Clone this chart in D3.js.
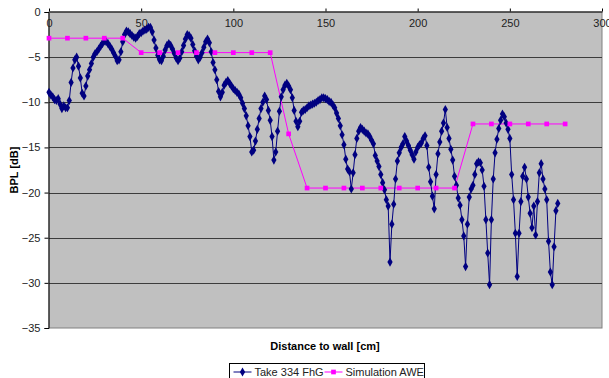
<!DOCTYPE html>
<html>
<head>
<meta charset="utf-8">
<script src="https://cdn.jsdelivr.net/npm/d3@7"></script>
<style>
  body { margin: 0; background: #fff; }
  svg { display: block; font-family: "Liberation Sans", Arial, sans-serif; }
</style>
</head>
<body>
<div id="chart"></div>
<script>
const width = 609;
const height = 378;

// Take 334 FhG, one reading per cm starting at 0 cm
const takeBpl = [
  -8.9, -9.2, -9.4, -9.7, -9.8, -9.6, -10.2, -10.7, -10.4, -10.6,
  -10.6, -9.8, -7.8, -6.2, -5.3, -5.0, -6.0, -7.3, -9.0, -9.3,
  -8.2, -7.1, -6.4, -5.7, -5.0, -4.6, -4.4, -4.1, -3.8, -3.5,
  -3.2, -3.3, -3.5, -3.8, -4.1, -4.5, -4.9, -5.4, -5.3, -4.4,
  -3.3, -2.5, -2.1, -2.2, -2.4, -2.6, -2.8, -2.9, -2.7, -2.4,
  -2.3, -2.1, -2.0, -1.9, -1.7, -1.7, -2.2, -3.1, -4.0, -4.8,
  -5.3, -5.4, -4.9, -4.2, -3.7, -3.5, -3.7, -4.1, -4.6, -5.1,
  -5.4, -5.1, -4.4, -3.7, -3.0, -2.5, -2.6, -2.9, -3.6, -4.3,
  -4.9, -5.3, -5.0, -4.5, -3.9, -3.3, -3.0, -3.4, -4.4, -5.6,
  -6.4, -7.5, -8.8, -9.4, -8.9, -8.1, -7.8, -7.6, -7.9, -8.2,
  -8.5, -8.7, -8.9, -9.1, -9.5, -10.1, -10.7, -11.5, -12.6, -13.8,
  -15.5, -15.3, -14.3, -13.0, -11.8, -10.7, -10.0, -9.3, -9.7, -10.9,
  -12.0, -13.8, -16.4, -15.5, -13.2, -11.0, -9.4, -8.6, -8.1, -7.9,
  -8.2, -8.6, -9.5, -10.9, -12.1, -12.7, -12.1, -11.1, -10.9, -10.8,
  -10.6, -10.4, -10.3, -10.2, -10.1, -10.0, -9.8, -9.7, -9.5, -9.5,
  -9.6, -9.7, -9.9, -10.0, -10.3, -10.6, -11.2, -11.8, -12.6, -13.6,
  -14.7, -16.3, -17.4, -17.7, -19.6, -17.8, -15.8, -14.0, -13.2, -12.8,
  -13.0, -13.2, -13.4, -13.5, -13.8, -14.2, -14.6, -15.9, -16.5, -17.1,
  -18.0, -18.9, -19.7, -20.8, -21.5, -27.7, -23.5, -21.3, -18.5, -16.5,
  -15.6, -15.0, -14.6, -13.8, -14.3, -14.8, -15.3, -15.8, -16.3, -15.5,
  -15.0, -14.7, -14.5, -14.0, -13.7, -14.8, -17.2, -18.8, -20.4, -21.8,
  -18.0, -15.7, -14.4, -13.2, -12.3, -10.8, -12.8, -14.0, -15.2, -16.4,
  -18.2, -19.2, -20.6, -21.4, -23.0, -24.8, -28.2, -23.5, -20.5, -19.6,
  -19.2, -18.0, -16.8, -16.6, -16.7, -17.5, -19.3, -23.0, -26.7, -30.2,
  -23.0, -18.5, -15.6, -14.1, -12.9, -12.0, -11.3, -11.6, -12.3, -13.0,
  -14.0, -18.0, -20.8, -24.5, -29.3, -24.5, -21.0, -18.2, -17.2, -18.5,
  -20.5, -22.3, -23.9, -21.5, -24.7, -21.0, -17.8, -16.8, -18.5, -19.6,
  -20.8, -25.4, -28.8, -30.2, -26.0, -22.0, -21.2
];

// Simulation AWE
const simDist = [0, 10, 20, 30, 40, 50, 60, 70, 80, 90, 100, 110, 120, 130, 140,
  150, 160, 170, 180, 190, 200, 210, 220, 230, 240, 250, 260, 270, 280];
const simBpl = [-2.9, -2.9, -2.9, -2.9, -2.9, -4.5, -4.5, -4.5, -4.5, -4.5, -4.5, -4.5, -4.5, -13.5, -19.5,
  -19.5, -19.5, -19.5, -19.5, -19.5, -19.5, -19.5, -19.5, -12.4, -12.4, -12.4, -12.4, -12.4, -12.4];

const xTicks = [0, 50, 100, 150, 200, 250, 300];
const yTicks = [0, -5, -10, -15, -20, -25, -30, -35];

const takeData = takeBpl.map((v, i) => ({ x: i, y: v }));
const simData = simDist.map((d, i) => ({ x: d, y: simBpl[i] }));

const plot = { left: 49, right: 602, top: 12, bottom: 328 };

const x = d3.scaleLinear().domain([0, 300]).range([plot.left, plot.right]);
const y = d3.scaleLinear().domain([0, -35]).range([plot.top, plot.bottom]);

const svg = d3.select("#chart").append("svg")
  .attr("width", width)
  .attr("height", height);

// plot area
svg.append("rect")
  .attr("x", plot.left)
  .attr("y", plot.top)
  .attr("width", plot.right - plot.left)
  .attr("height", plot.bottom - plot.top)
  .attr("fill", "#c0c0c0")
  .attr("stroke", "#808080")
  .attr("stroke-width", 1);

// gridlines
svg.append("g")
  .selectAll("line")
  .data(yTicks.filter(t => t !== 0 && t !== -35))
  .join("line")
  .attr("x1", plot.left)
  .attr("x2", plot.right)
  .attr("y1", d => Math.round(y(d)) + 0.5)
  .attr("y2", d => Math.round(y(d)) + 0.5)
  .attr("stroke", "#3c3c3c")
  .attr("stroke-width", 1);

// y axis
const yAxis = svg.append("g")
  .attr("transform", `translate(${plot.left - 0.5},0)`)
  .call(d3.axisLeft(y).tickValues(yTicks).tickSize(4).tickPadding(4).tickFormat(d3.format("d")));
yAxis.select(".domain").attr("stroke", "#000");
yAxis.selectAll(".tick line").attr("stroke", "#000");
yAxis.selectAll("text")
  .attr("font-size", 11)
  .attr("fill", "#222")
  .attr("font-family", "Liberation Sans, Arial, sans-serif");

// x axis along the zero line (top), labels inside the plot
const xAxis = svg.append("g")
  .attr("transform", `translate(0,${plot.top - 0.5})`)
  .call(d3.axisTop(x).tickValues(xTicks).tickSize(3).tickSizeOuter(0));
xAxis.select(".domain").attr("stroke", "#000");
xAxis.selectAll(".tick line").attr("stroke", "#000");
xAxis.selectAll("text")
  .attr("y", 15)
  .attr("dy", 0)
  .attr("font-size", 11)
  .attr("fill", "#222")
  .attr("font-family", "Liberation Sans, Arial, sans-serif");

const line = d3.line().x(d => x(d.x)).y(d => y(d.y));

// simulation series
svg.append("path")
  .datum(simData)
  .attr("d", line)
  .attr("fill", "none")
  .attr("stroke", "#ff00ff")
  .attr("stroke-width", 1);

// measured series
svg.append("path")
  .datum(takeData)
  .attr("d", line)
  .attr("fill", "none")
  .attr("stroke", "#000080")
  .attr("stroke-width", 1);

const diamond = d3.symbol().type(d3.symbolDiamond).size(24);
const square = d3.symbol().type(d3.symbolSquare).size(22);

svg.append("g")
  .selectAll("path")
  .data(takeData)
  .join("path")
  .attr("transform", d => `translate(${x(d.x)},${y(d.y)})`)
  .attr("d", diamond)
  .attr("fill", "#000080");

svg.append("g")
  .selectAll("path")
  .data(simData)
  .join("path")
  .attr("transform", d => `translate(${x(d.x)},${y(d.y)})`)
  .attr("d", square)
  .attr("fill", "#ff00ff");

// axis titles
svg.append("text")
  .attr("transform", `translate(18,170) rotate(-90)`)
  .attr("text-anchor", "middle")
  .attr("font-size", 11)
  .attr("font-weight", "bold")
  .text("BPL [dB]");

svg.append("text")
  .attr("x", 325)
  .attr("y", 350)
  .attr("text-anchor", "middle")
  .attr("font-size", 11)
  .attr("font-weight", "bold")
  .text("Distance to wall [cm]");

// legend
const legend = svg.append("g").attr("transform", "translate(229.5,363.5)");
legend.append("rect")
  .attr("width", 195)
  .attr("height", 20)
  .attr("fill", "#fff")
  .attr("stroke", "#000");

const legendItems = [
  { label: "Take 334 FhG", color: "#000080", symbol: diamond, x0: 4 },
  { label: "Simulation AWE", color: "#ff00ff", symbol: square, x0: 95 }
];

legendItems.forEach(item => {
  const g = legend.append("g").attr("transform", `translate(${item.x0},8.5)`);
  g.append("line").attr("x1", 0).attr("x2", 18).attr("stroke", item.color);
  g.append("path").attr("transform", "translate(9,0)").attr("d", item.symbol).attr("fill", item.color);
  g.append("text")
    .attr("x", 21)
    .attr("y", 4)
    .attr("font-size", 11)
    .attr("fill", "#222")
    .text(item.label);
});
</script>
</body>
</html>
